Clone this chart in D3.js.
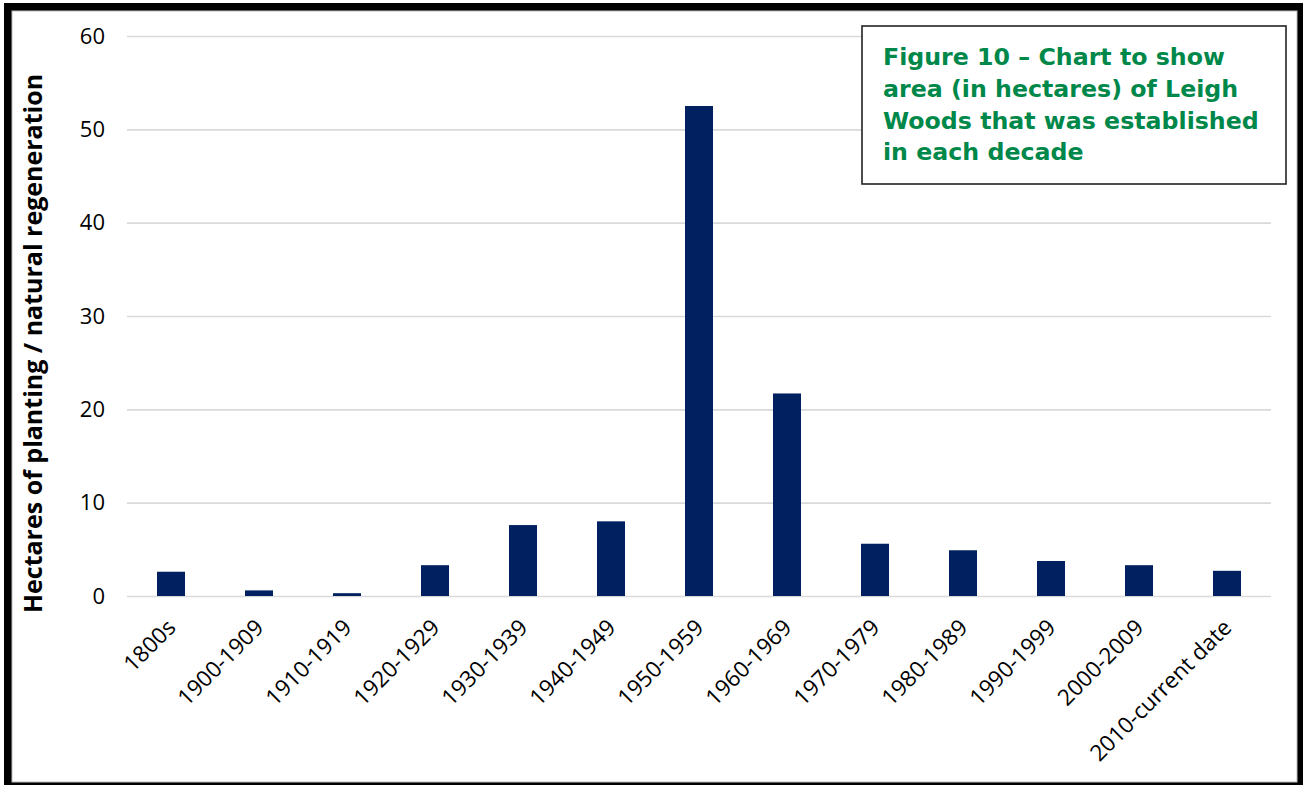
<!DOCTYPE html>
<html>
<head>
<meta charset="utf-8">
<script src="https://cdn.jsdelivr.net/npm/d3@7"></script>
<style>
  html, body { margin: 0; padding: 0; background: #fff; }
  svg { display: block; }
</style>
</head>
<body>
<svg id="chart" width="1303" height="785"></svg>
<script>
// Area of Leigh Woods established per decade (hectares)
const categories = ["1800s", "1900-1909", "1910-1919", "1920-1929", "1930-1939", "1940-1949",
  "1950-1959", "1960-1969", "1970-1979", "1980-1989", "1990-1999", "2000-2009", "2010-current date"];
const hectares = [2.6, 0.6, 0.3, 3.3, 7.6, 8.0, 52.5, 21.7, 5.6, 4.9, 3.75, 3.3, 2.7];
const yTicks = [0, 10, 20, 30, 40, 50, 60];
const yTitle = "Hectares of planting / natural regeneration";
const titleLines = ["Figure 10 \u2013 Chart to show", "area (in hectares) of Leigh",
  "Woods that was established", "in each decade"];

const W = 1303, H = 785;
const plot = { left: 127, right: 1271, top: 36, bottom: 596 };

const svg = d3.select("#chart");

// outer frame
svg.append("rect").attr("x", 4).attr("y", 3).attr("width", W - 4).attr("height", H - 3).attr("fill", "#000");
svg.append("rect").attr("x", 12).attr("y", 11).attr("width", 1285).attr("height", 771)
  .attr("fill", "#fff").attr("stroke", "#bdbdbd").attr("stroke-width", 1);

const x = d3.scaleBand().domain(categories)
  .range([plot.left, plot.right]).paddingInner(0.682).paddingOuter(0.341);
const y = d3.scaleLinear().domain([0, 60]).range([plot.bottom, plot.top]);

// gridlines + tick labels
const yAxis = d3.axisLeft(y).tickValues(yTicks).tickSize(-(plot.right - plot.left)).tickPadding(22);
const gy = svg.append("g").attr("transform", `translate(${plot.left},0)`).call(yAxis);
gy.select(".domain").remove();
gy.selectAll(".tick line").attr("stroke", "#d9d9d9").attr("stroke-width", 1.6);
gy.selectAll(".tick text")
  .attr("font-family", "'Open Sans', sans-serif").attr("font-size", 22).attr("fill", "#000");

// bars
svg.append("g").selectAll("rect").data(categories).join("rect")
  .attr("x", d => x(d))
  .attr("width", x.bandwidth())
  .attr("y", (d, i) => y(hectares[i]))
  .attr("height", (d, i) => y(0) - y(hectares[i]))
  .attr("fill", "#002060");

// category labels, rotated
const xAxis = d3.axisBottom(x).tickSize(0).tickPadding(0);
const gx = svg.append("g").attr("transform", `translate(0,${plot.bottom})`).call(xAxis);
gx.select(".domain").remove();
gx.selectAll(".tick text")
  .attr("font-family", "'Open Sans', sans-serif").attr("font-size", 22.5).attr("fill", "#000")
  .attr("text-anchor", "end")
  .attr("dy", null)
  .attr("transform", "translate(6,33) rotate(-45)");

// y axis title
svg.append("text")
  .attr("transform", `translate(42,${(75 + 612) / 2}) rotate(-90)`)
  .attr("text-anchor", "middle")
  .attr("font-family", "'Open Sans', sans-serif").attr("font-weight", 700).attr("font-size", 25)
  .attr("fill", "#000")
  .text(yTitle);

// title box
const box = svg.append("g");
box.append("rect").attr("x", 862).attr("y", 26).attr("width", 424).attr("height", 158)
  .attr("fill", "#fff").attr("stroke", "#222").attr("stroke-width", 1.6);
box.append("text")
  .attr("font-family", "'DejaVu Sans', Verdana, sans-serif").attr("font-weight", 700).attr("font-size", 23.7)
  .attr("fill", "#00884a")
  .selectAll("tspan").data(titleLines).join("tspan")
  .attr("x", 883)
  .attr("y", (d, i) => 65 + i * 31.8)
  .text(d => d);
</script>
</body>
</html>
